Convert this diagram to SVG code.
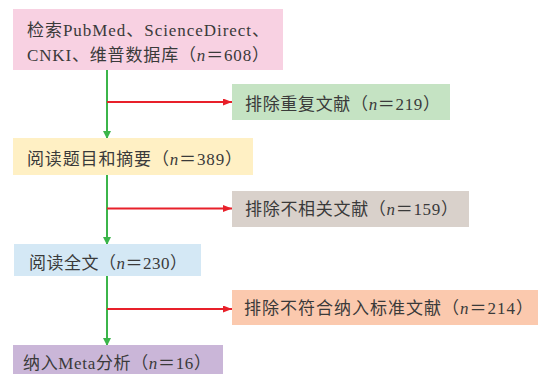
<svg xmlns="http://www.w3.org/2000/svg" width="538" height="374" viewBox="0 0 538 374">
<defs>
<marker id="ag" markerWidth="8" markerHeight="8" refX="7" refY="4" orient="auto" markerUnits="userSpaceOnUse"><path d="M0,0 L8,4 L0,8 Z" fill="#3bb54a"/></marker>
<marker id="ar" markerWidth="9" markerHeight="7" refX="9" refY="3.5" orient="auto" markerUnits="userSpaceOnUse"><path d="M0,0 L9,3.5 L0,7 Z" fill="#e8202a"/></marker>
</defs>
<style>
text{font-family:"Liberation Serif","Noto Sans CJK SC",serif;font-size:17px;fill:#3a3a3a}
.i{font-style:italic}
.g{stroke:#3bb54a;stroke-width:2;fill:none}
.r{stroke:#e8202a;stroke-width:2;fill:none}
</style>
<rect width="538" height="374" fill="#fff"/>
<g id="connectors">
<line class="g" x1="107" y1="70" x2="107" y2="138" marker-end="url(#ag)"/>
<line class="g" x1="107" y1="175" x2="107" y2="244" marker-end="url(#ag)"/>
<line class="g" x1="107" y1="276" x2="107" y2="345" marker-end="url(#ag)"/>
<line class="r" x1="107" y1="102" x2="232" y2="102" marker-end="url(#ar)"/>
<line class="r" x1="107" y1="208.5" x2="232" y2="208.5" marker-end="url(#ar)"/>
<line class="r" x1="107" y1="309" x2="232" y2="309" marker-end="url(#ar)"/>
</g>
<g id="n1"><rect x="13" y="9" width="270" height="61" fill="#f8d1e2"/>
<text x="27" y="36" textLength="242">检索PubMed、ScienceDirect、</text>
<text x="27" y="61" textLength="242">CNKI、维普数据库（<tspan class="i">n</tspan>＝608）</text></g>
<g id="n2"><rect x="232" y="84" width="218" height="36" fill="#c5e3c3"/>
<text x="245" y="110" textLength="195">排除重复文献（<tspan class="i">n</tspan>＝219）</text></g>
<g id="n3"><rect x="13" y="138" width="240" height="37" fill="#fff0c4"/>
<text x="27" y="165" textLength="215">阅读题目和摘要（<tspan class="i">n</tspan>＝389）</text></g>
<g id="n4"><rect x="232" y="191" width="237" height="36" fill="#d9d1cb"/>
<text x="245" y="215" textLength="213">排除不相关文献（<tspan class="i">n</tspan>＝159）</text></g>
<g id="n5"><rect x="14" y="244" width="187" height="32" fill="#d4e8f5"/>
<text x="29" y="269" textLength="158">阅读全文（<tspan class="i">n</tspan>＝230）</text></g>
<g id="n6"><rect x="232" y="290" width="306" height="35" fill="#fbc9ae"/>
<text x="244" y="314" textLength="289">排除不符合纳入标准文献（<tspan class="i">n</tspan>＝214）</text></g>
<g id="n7"><rect x="13" y="345" width="210" height="35" fill="#cab6d8"/>
<text x="23" y="369" textLength="188">纳入Meta分析（<tspan class="i">n</tspan>＝16）</text></g>
</svg>
